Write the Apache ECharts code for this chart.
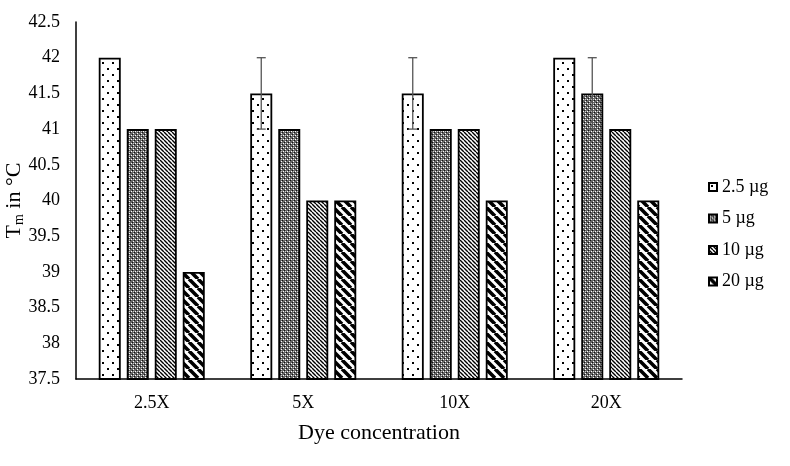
<!DOCTYPE html>
<html>
<head>
<meta charset="utf-8">
<script src="https://cdn.jsdelivr.net/npm/echarts@6/dist/echarts.min.js"></script>
<style>html,body{margin:0;padding:0;background:#fff;}#c{width:790px;height:466px;}</style>
</head>
<body>
<div id="c"></div>
<script>
var categories = ['2.5X', '5X', '10X', '20X'];
var seriesNames = ['2.5 µg', '5 µg', '10 µg', '20 µg'];
var values25 = [42, 41.5, 41.5, 42];
var values5 = [41, 41, 41, 41.5];
var values10 = [41, 40, 41, 41];
var values20 = [39, 40, 40, 40];
var err25 = [0, 0.5, 0.5, 0];
var err5 = [0, 0, 0, 0.5];
var err10 = [0, 0, 0, 0];
var err20 = [0, 0, 0, 0];
var yTicks = [37.5, 42.5, 0.5];

var FONT = '"Liberation Serif", "Times New Roman", serif';

function makePattern(w, h, draw) {
  var c = document.createElement('canvas');
  c.width = w; c.height = h;
  var ctx = c.getContext('2d');
  ctx.fillStyle = '#fff';
  ctx.fillRect(0, 0, w, h);
  draw(ctx, w, h);
  return { image: c, repeat: 'repeat' };
}
var patDots = makePattern(10, 12, function (ctx) {
  ctx.fillStyle = '#000';
  ctx.fillRect(2, 2, 2, 2);
  ctx.fillRect(7, 8, 2, 2);
});
var patFine = makePattern(4, 4, function (ctx) {
  ctx.fillStyle = '#666';
  ctx.fillRect(0, 0, 4, 4);
  ctx.fillStyle = '#fff';
  ctx.fillRect(1, 1, 1, 1);
  ctx.fillRect(3, 3, 1, 1);
  ctx.fillStyle = '#ccc';
  ctx.fillRect(1, 3, 1, 1);
  ctx.fillStyle = '#111';
  ctx.fillRect(0, 2, 1, 1);
  ctx.fillRect(2, 0, 1, 1);
});
function diag(size, lw) {
  return makePattern(size, size, function (ctx, w, h) {
    ctx.strokeStyle = '#000';
    ctx.lineWidth = lw;
    ctx.beginPath();
    for (var k = -1; k <= 1; k++) {
      ctx.moveTo(k * w, 0);
      ctx.lineTo(k * w + w, h);
    }
    ctx.stroke();
  });
}
var patDiagFine = diag(4, 1.4);
var patDiagThick = diag(9, 3.6);

var patterns = [patDots, patFine, patDiagFine, patDiagThick];
var allValues = [values25, values5, values10, values20];
var allErr = [err25, err5, err10, err20];

var BAR_W = 22, BAR_GAP = 6;

var series = [];
allValues.forEach(function (vals, i) {
  series.push({
    name: seriesNames[i],
    type: 'bar',
    data: vals,
    barWidth: BAR_W,
    barGap: (BAR_GAP / BAR_W * 100) + '%',
    itemStyle: { color: patterns[i], borderColor: '#000', borderWidth: 1.8 },
    emphasis: { disabled: true }
  });
});
allErr.forEach(function (errs, i) {
  var d = [];
  errs.forEach(function (e, j) {
    if (e > 0) d.push([j, allValues[i][j] - e, allValues[i][j] + e]);
  });
  if (!d.length) return;
  series.push({
    type: 'custom',
    data: d,
    z: 10,
    silent: true,
    renderItem: function (params, api) {
      var off = (i - 1.5) * (BAR_W + BAR_GAP);
      var lo = api.coord([api.value(0), api.value(1)]);
      var hi = api.coord([api.value(0), api.value(2)]);
      var x = lo[0] + off;
      var cap = 4.5;
      var st = { stroke: '#555', lineWidth: 1.3 };
      return {
        type: 'group',
        children: [
          { type: 'line', shape: { x1: x, y1: lo[1], x2: x, y2: hi[1] }, style: st },
          { type: 'line', shape: { x1: x - cap, y1: lo[1], x2: x + cap, y2: lo[1] }, style: st },
          { type: 'line', shape: { x1: x - cap, y1: hi[1], x2: x + cap, y2: hi[1] }, style: st }
        ]
      };
    }
  });
});

var chart = echarts.init(document.getElementById('c'), null, { renderer: 'canvas' });
chart.setOption({
  animation: false,
  backgroundColor: '#fff',
  textStyle: { fontFamily: FONT, color: '#000' },
  grid: { left: 76, right: 108, top: 22, bottom: 87, containLabel: false, outerBoundsMode: 'none' },
  legend: {
    orient: 'vertical',
    left: 703,
    top: 173,
    itemWidth: 8,
    itemHeight: 8,
    itemGap: 13.5,
    icon: 'rect',
    data: seriesNames,
    textStyle: { fontFamily: FONT, fontSize: 18, color: '#000', padding: [0, 0, 0, 0] }
  },
  xAxis: {
    type: 'category',
    data: categories,
    axisLine: { lineStyle: { color: '#000', width: 1.5 } },
    axisTick: { show: false },
    axisLabel: { fontFamily: FONT, fontSize: 18, color: '#000', margin: 15 },
    name: 'Dye concentration',
    nameLocation: 'middle',
    nameGap: 43,
    nameMoveOverlap: false,
    nameTextStyle: { fontFamily: FONT, fontSize: 22, color: '#000' }
  },
  yAxis: {
    type: 'value',
    min: yTicks[0],
    max: yTicks[1],
    interval: yTicks[2],
    axisLine: { show: true, lineStyle: { color: '#000', width: 1.5 } },
    axisTick: { show: false },
    splitLine: { show: false },
    axisLabel: {
      fontFamily: FONT, fontSize: 18, color: '#000', margin: 16,
      formatter: function (v) { return String(Math.round(v * 10) / 10); }
    },
    name: 'T{sub|m} in °C',
    nameLocation: 'middle',
    nameGap: 50,
    nameMoveOverlap: false,
    nameRotate: 90,
    nameTextStyle: {
      fontFamily: FONT, fontSize: 22, color: '#000',
      rich: { sub: { fontFamily: FONT, fontSize: 14, color: '#000', verticalAlign: 'bottom', padding: [9, 0, 0, 0] } }
    }
  },
  series: series
});
</script>
</body>
</html>
